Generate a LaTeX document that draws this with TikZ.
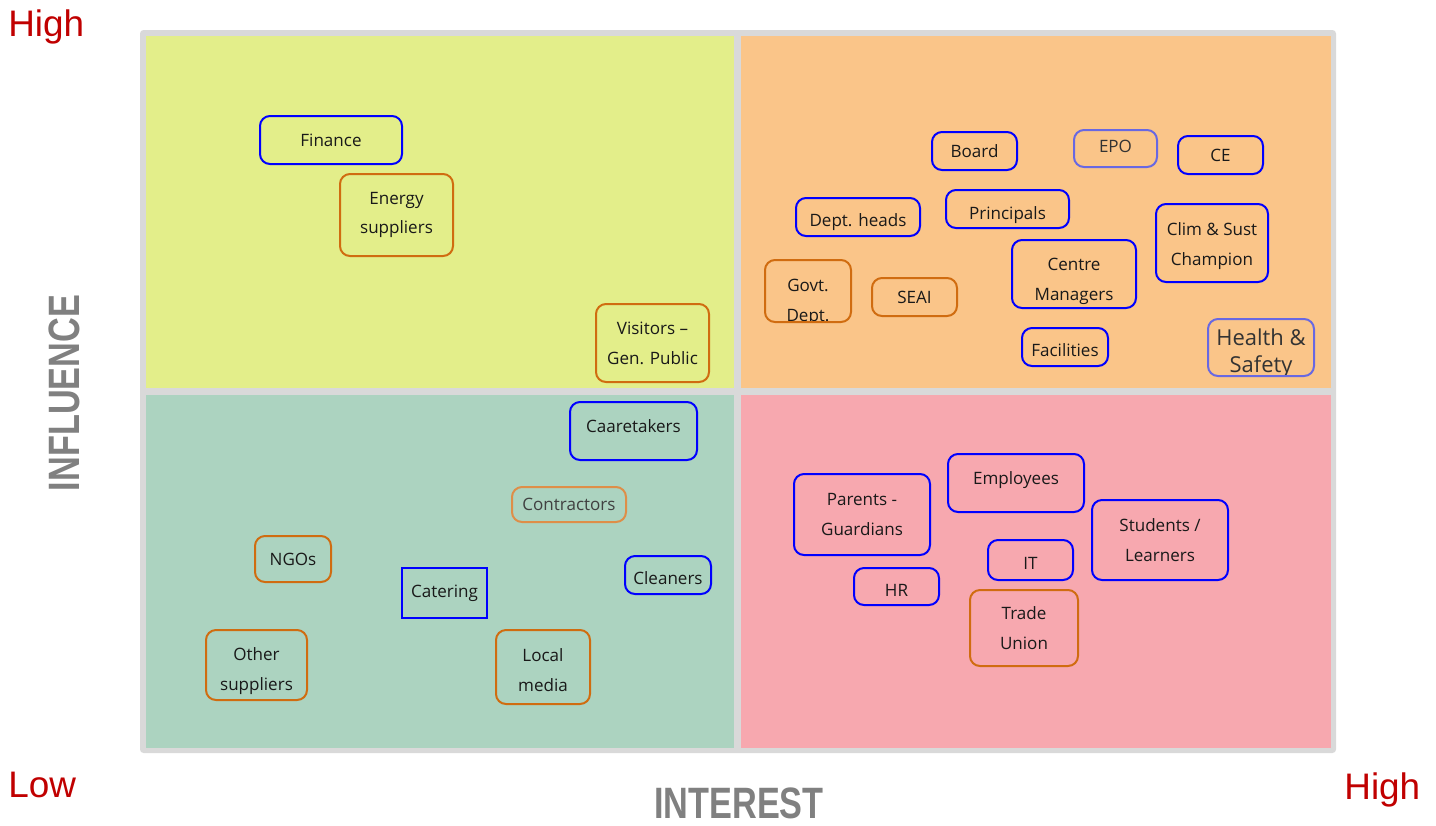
\documentclass[tikz,border=0pt]{standalone}
\usepackage{fontspec}
\setmainfont{Open Sans}
\newfontfamily\labelfont{Liberation Sans}
\usepackage{tikz}
\usetikzlibrary{backgrounds}
\definecolor{frame}{RGB}{217,217,217}
\definecolor{quadA}{RGB}{227,238,138}
\definecolor{quadB}{RGB}{250,197,137}
\definecolor{quadC}{RGB}{172,211,192}
\definecolor{quadD}{RGB}{247,168,175}
\definecolor{inblue}{RGB}{0,0,255}
\definecolor{exorange}{RGB}{208,108,16}
\definecolor{haze}{RGB}{104,104,226}
\definecolor{hazeorange}{RGB}{222,142,72}
\definecolor{lowhigh}{RGB}{192,0,0}
\definecolor{axisgrey}{RGB}{128,128,128}
\newcommand{\boxfont}{\fontsize{9.7}{17}\selectfont}
\newcommand{\bigboxfont}{\fontsize{12.5}{15.4}\selectfont}
\newcommand{\thickness}{0.4mm}
\newcommand{\rc}{2mm}
% struts that push the text down / up
\newcommand{\down}[1]{\rule{0pt}{#1}}
\newcommand{\up}[1]{\rule[-#1]{0pt}{#1}}
\tikzset{
  stake/.style={draw, rounded corners=\rc, line width=\thickness, align=center, inner sep=0pt, font=\boxfont, text=black!90},
  intern/.style={draw=inblue},
  extern/.style={draw=exorange},
  blurred/.style={draw=haze},
  end/.style={font=\labelfont\fontsize{21}{21}\selectfont, text=lowhigh, inner sep=0pt},
  axis/.style={font=\labelfont\bfseries\fontsize{25}{25}\selectfont, text=axisgrey, inner sep=0pt}
}

\begin{document}
\begin{tikzpicture}
\useasboundingbox (0,0) rectangle (28.72,-16.5);
%quadrants
\begin{scope}[on background layer]
\fill[frame, rounded corners=2pt] (2.80,-0.60) rectangle (26.72,-15.06);
\fill[quadA] (2.92,-0.72) rectangle (14.68,-7.76);
\fill[quadB] (14.82,-0.72) rectangle (26.62,-7.76);
\fill[quadC] (2.92,-7.90) rectangle (14.68,-14.96);
\fill[quadD] (14.82,-7.90) rectangle (26.62,-14.96);
\end{scope}
%axes
\node[end] (hightop) at (0.16,-0.72) [anchor=base west] {High};
\node[end] (low) at (0.16,-15.94) [anchor=base west] {Low};
\node[end] (highright) at (26.88,-15.98) [anchor=base west] {High};
\node[axis] (influence) at (1.28,-7.86) [rotate=90] {\scalebox{0.78}[1]{INFLUENCE}};
\node[axis] (interest) at (14.78,-16.06) {\scalebox{0.78}[1]{INTEREST}};
%high influence, low interest
\node[stake, intern] (finance) at (6.62, -2.80) [minimum width=2.84cm, minimum height=0.96cm] {Finance};
\node[stake, extern] (energy) at (7.93, -4.30) [minimum width=2.26cm, minimum height=1.64cm] {Energy\\suppliers};
\node[stake, extern] (visitors) at (13.05, -6.86) [minimum width=2.26cm, minimum height=1.56cm] {Visitors --\\Gen. Public};
%high influence, high interest
\node[stake, intern] (board) at (19.49, -3.02) [minimum width=1.70cm, minimum height=0.76cm] {Board};
\node[stake, blurred] (epo) at (22.31, -2.97) [minimum width=1.66cm, minimum height=0.74cm, text=black!80] {EPO\up{2.3pt}};
\node[stake, intern] (ce) at (24.41, -3.10) [minimum width=1.70cm, minimum height=0.76cm] {CE};
\node[stake, intern] (depthead) at (17.16, -4.34) [minimum width=2.48cm, minimum height=0.76cm] {\down{13pt}Dept. heads};
\node[stake, intern] (principals) at (20.15, -4.18) [minimum width=2.46cm, minimum height=0.76cm] {\down{14pt}Principals};
\node[stake, intern] (champion) at (24.24, -4.86) [minimum width=2.24cm, minimum height=1.56cm] {\down{10.7pt}Clim \& Sust\\Champion};
\node[stake, extern] (govt) at (16.16, -5.82) [minimum width=1.72cm, minimum height=1.24cm,
  path picture={\node[font=\boxfont, align=center, text=black!90] at ([yshift=-0.22cm]path picture bounding box.center) {Govt.\\Dept.};}] {};
\node[stake, extern] (seai) at (18.29, -5.94) [minimum width=1.70cm, minimum height=0.76cm] {SEAI};
\node[stake, intern] (centre) at (21.48, -5.48) [minimum width=2.48cm, minimum height=1.36cm] {\down{15.3pt}Centre\\Managers};
\node[stake, intern] (facilities) at (21.30, -6.94) [minimum width=1.72cm, minimum height=0.76cm] {\down{10.7pt}Facilities};
\node[stake, blurred] (health) at (25.22, -6.95) [minimum width=2.12cm, minimum height=1.14cm,
  path picture={\node[font=\bigboxfont, align=center, text=black!80] at ([yshift=-0.12cm]path picture bounding box.center) {Health \&\\Safety};}] {};
%low influence, low interest
\node[stake, intern] (caretakers) at (12.67, -8.62) [minimum width=2.54cm, minimum height=1.16cm] {Caaretakers\up{5.7pt}};
\node[stake, draw=hazeorange] (contractors) at (11.38, -10.09) [minimum width=2.28cm, minimum height=0.70cm, text=black!75] {Contractors};
\node[stake, extern] (ngos) at (5.86, -11.18) [minimum width=1.52cm, minimum height=0.92cm] {NGOs};
\node[stake, intern, sharp corners] (catering) at (8.89, -11.86) [minimum width=1.70cm, minimum height=1.00cm] {Catering};
\node[stake, intern] (cleaners) at (13.36, -11.50) [minimum width=1.72cm, minimum height=0.76cm] {\down{10.7pt}Cleaners};
\node[stake, extern] (othersup) at (5.13, -13.30) [minimum width=2.02cm, minimum height=1.40cm] {\down{14pt}Other\\suppliers};
\node[stake, extern] (localmedia) at (10.86, -13.34) [minimum width=1.88cm, minimum height=1.48cm] {\down{10.7pt}Local\\media};
%low influence, high interest
\node[stake, intern] (parents) at (17.24, -10.29) [minimum width=2.72cm, minimum height=1.62cm] {Parents -\\Guardians};
\node[stake, intern] (employees) at (20.32, -9.66) [minimum width=2.72cm, minimum height=1.16cm] {Employees\up{5.7pt}};
\node[stake, intern] (students) at (23.20, -10.80) [minimum width=2.72cm, minimum height=1.60cm] {Students /\\Learners};
\node[stake, intern] (it) at (20.61, -11.20) [minimum width=1.70cm, minimum height=0.80cm] {\down{10.7pt}IT};
\node[stake, intern] (hr) at (17.93, -11.73) [minimum width=1.70cm, minimum height=0.74cm] {\down{11.8pt}HR};
\node[stake, extern] (tradeunion) at (20.48, -12.56) [minimum width=2.16cm, minimum height=1.52cm] {Trade\\Union};
\end{tikzpicture}
\end{document}
